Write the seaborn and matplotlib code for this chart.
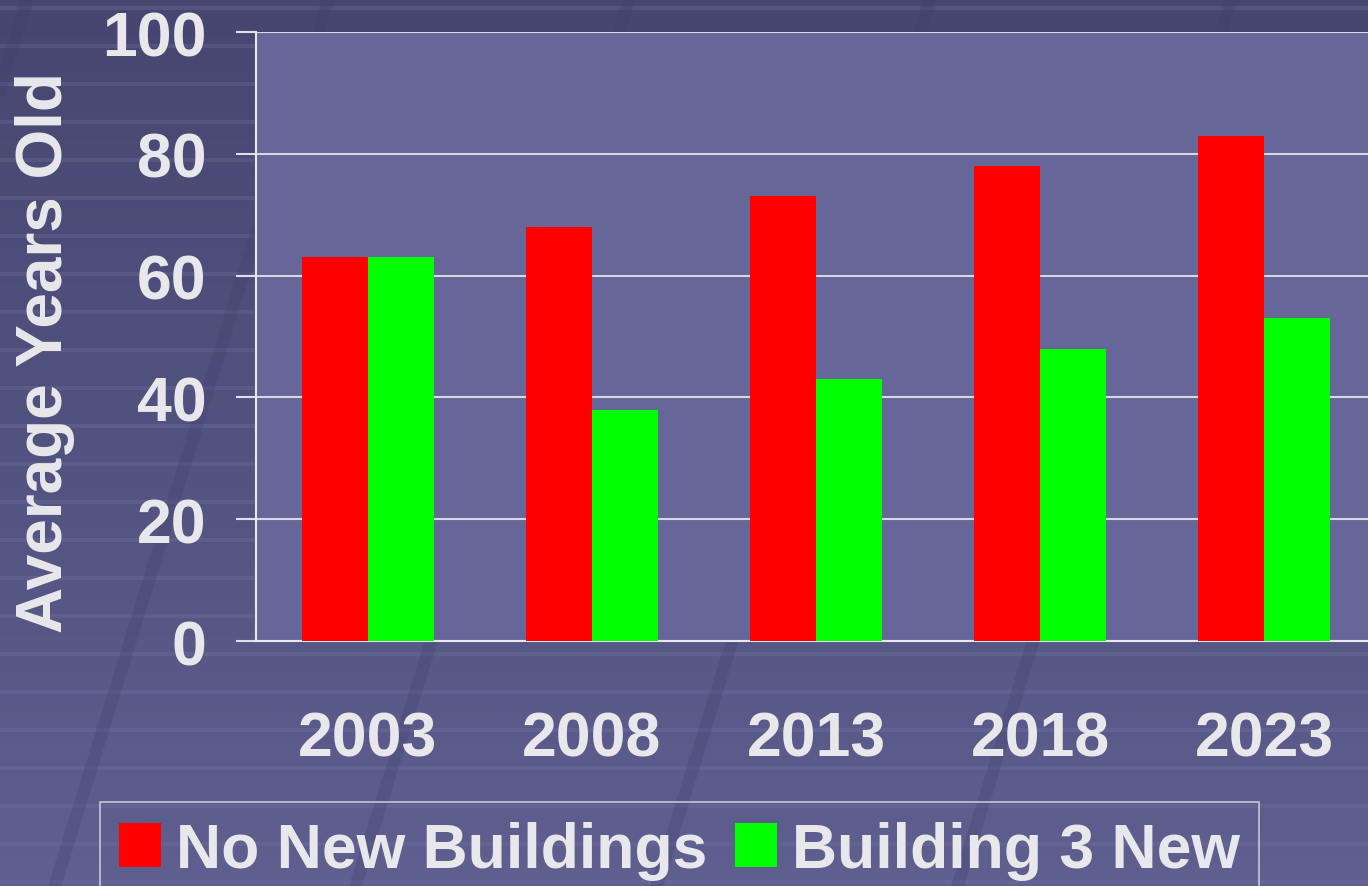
import numpy as np
import pandas as pd
import seaborn as sns
import matplotlib.pyplot as plt
from matplotlib.colors import LinearSegmentedColormap

# values
years = ["2003", "2008", "2013", "2018", "2023"]
no_new = [63, 68, 73, 78, 83]
build_3 = [63, 38, 43, 48, 53]
series_names = ["No New Buildings", "Building 3 New"]

df = pd.DataFrame({
    "year": years * 2,
    "age": no_new + build_3,
    "plan": [series_names[0]] * 5 + [series_names[1]] * 5,
})

sns.set_theme(style="white")
plt.rcParams["font.family"] = ["Liberation Sans", "DejaVu Sans"]
plt.rcParams["font.weight"] = "bold"
txt = "#e8e8ec"

fig = plt.figure(figsize=(13.68, 8.87), dpi=100)

# slide background: gradient + faint stripes
bg = fig.add_axes([0, 0, 1, 1], zorder=-5)
cmap = LinearSegmentedColormap.from_list("bg", ["#464670", "#5f5f90"])
grad = np.linspace(0, 1, 256).reshape(-1, 1)
bg.imshow(grad, aspect="auto", cmap=cmap, extent=[0, 1, 0, 1], origin="upper")
for yy in np.arange(0.99, 0.0, -38 / 887):
    bg.axhline(yy, color="#7a7aa8", lw=3, alpha=0.25)
for x0 in [0.02, 0.24, 0.46, 0.68, 0.90]:
    bg.plot([x0, x0 - 0.2], [1.0, 0.0], color="#3e3e66", lw=9, alpha=0.25)
bg.set_xlim(0, 1)
bg.set_ylim(0, 1)
bg.axis("off")

ax = fig.add_axes([256 / 1368, 1 - 642 / 887, 1120 / 1368, 609 / 887])
ax.set_facecolor("#666699")

sns.barplot(data=df, x="year", y="age", hue="plan", palette=["#ff0000", "#00ff00"],
            width=0.585, gap=0, saturation=1, linewidth=0, ax=ax, legend=True, zorder=3)

ax.set_xlim(-0.5, 4.5)
ax.set_ylim(0, 100)
ax.set_yticks([0, 20, 40, 60, 80, 100])
ax.yaxis.grid(True, color="#d8d8e4", lw=1.5)
ax.set_axisbelow(True)

ax.set_xticks(range(5))
ax.set_xticklabels(years)
ax.set_xticks(np.arange(-0.5, 5.0, 1.0), minor=True)
ax.tick_params(axis="x", which="major", length=0, pad=49, labelsize=45, labelcolor=txt)
ax.tick_params(axis="x", which="minor", length=14.4, width=1.5, color="#e0e0ea", direction="out")
ax.tick_params(axis="y", length=14.4, width=1.5, color="#e0e0ea", direction="out",
               pad=21, labelsize=45, labelcolor=txt, left=True)
for lab in ax.get_xticklabels() + ax.get_yticklabels():
    lab.set_fontweight("bold")

for s in ["top", "right"]:
    ax.spines[s].set_visible(False)
for s in ["left", "bottom"]:
    ax.spines[s].set_color("#e8e8f0")
    ax.spines[s].set_linewidth(1.5)

ax.set_xlabel("")
ax.set_ylabel("Average Years Old", fontsize=46, fontweight="bold", color=txt)
ax.yaxis.set_label_coords(-0.162, 0.476)

handles, labels = ax.get_legend_handles_labels()
ax.legend_.remove()
leg = fig.legend(handles, labels, loc="upper left", bbox_to_anchor=(100 / 1368, 1 - 803 / 887),
                 ncol=2, fontsize=45, frameon=True, fancybox=False, borderaxespad=0,
                 handlelength=0.67, handleheight=0.7, handletextpad=0.24, columnspacing=0.45,
                 borderpad=0.3)
leg.get_frame().set_facecolor("none")
leg.get_frame().set_edgecolor("#e0e0ea")
leg.get_frame().set_linewidth(1.2)
for t in leg.get_texts():
    t.set_color(txt)
    t.set_fontweight("bold")

fig.savefig("out.png", dpi=100)
